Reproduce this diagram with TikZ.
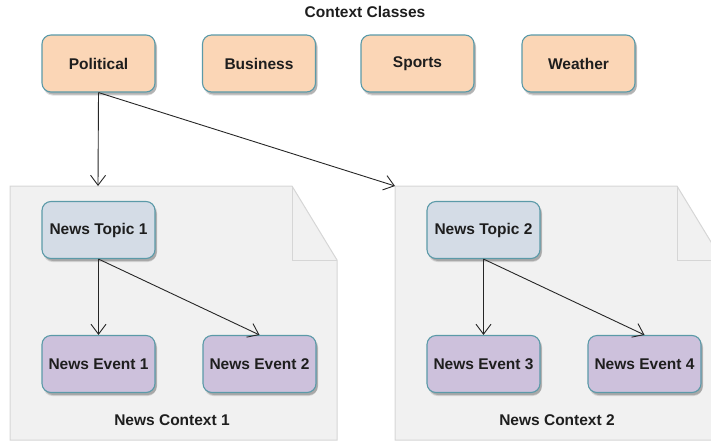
\documentclass[tikz,border=0pt]{standalone}
\usepackage{fontspec}
\setmainfont{Liberation Sans}
\usetikzlibrary{arrows.meta,shadows}
\definecolor{peach}{HTML}{FBD6B6}
\definecolor{topicc}{HTML}{D4DCE6}
\definecolor{eventc}{HTML}{CDC1DC}
\definecolor{edgec}{HTML}{5B9AA8}
\definecolor{docfill}{HTML}{F1F1F1}
\definecolor{docline}{HTML}{D6D6D6}
\definecolor{txt}{HTML}{1E1E1E}
\tikzset{
  box/.style={draw=edgec, line width=1.1pt, rounded corners=9pt, minimum width=113pt, minimum height=57pt,
    inner sep=0pt, font=\fontsize{15.5}{17}\selectfont\bfseries, text=txt,
    drop shadow={shadow xshift=1.5pt, shadow yshift=-3.5pt, opacity=0.12, fill=black},
    drop shadow={shadow xshift=2pt, shadow yshift=-2.5pt, opacity=0.2, fill=black}},
  classbox/.style={box, fill=peach},
  topicbox/.style={box, fill=topicc},
  eventbox/.style={box, fill=eventc},
  docshape/.style={draw=docline, fill=docfill, line width=1pt},
  foldline/.style={draw=docline, line width=1pt},
  conn/.style={draw=black!85, line width=0.9pt, -{Straight Barb[length=10pt,width=15pt]}},
  label/.style={font=\fontsize{15.5}{17}\selectfont\bfseries, text=txt}
}
\begin{document}
\begin{tikzpicture}[x=1pt,y=-1pt]
\useasboundingbox (0,0) rectangle (711,442);
\clip (0,0) rectangle (711,442);
% documents
\path[docshape] (10,186) -- (292,186) -- (337,260) -- (337,440) -- (10,440) -- cycle;
\path[foldline] (292,186) -- (292,260) -- (337,260);
\path[docshape] (395,186) -- (677,186) -- (722,260) -- (722,440) -- (395,440) -- cycle;
\path[foldline] (677,186) -- (677,260) -- (722,260);
\coordinate (d1top) at (98,186);
\coordinate (d2top) at (395,186);
% title
\node[label] (title) at (365,12) {Context Classes};
% classes
\node[classbox] (pol) at (98.5,63.5) {Political};
\node[classbox] (bus) at (259,63.5) {Business};
\node[classbox] (spo) at (417.5,63.5) {Sports};
\node[classbox] (wea) at (578.5,63.5) {Weather};
% topics and events
\node[topicbox] (t1) at (98.5,230) {News Topic 1};
\node[eventbox] (e1) at (98.5,364) {News Event 1};
\node[eventbox] (e2) at (259.5,364) {News Event 2};
\node[topicbox] (t2) at (483.5,230) {News Topic 2};
\node[eventbox] (e3) at (483.5,364) {News Event 3};
\node[eventbox] (e4) at (644.5,364) {News Event 4};
\node[label] (c1) at (172,420) {News Context 1};
\node[label] (c2) at (557,420) {News Context 2};
% connectors
\draw[conn] (pol.south) -- (d1top);
\draw[conn] (pol.south) -- (d2top);
\draw[conn] (t1.south) -- (e1.north);
\draw[conn] (t1.south) -- (e2.north);
\draw[conn] (t2.south) -- (e3.north);
\draw[conn] (t2.south) -- (e4.north);
\end{tikzpicture}
\end{document}
